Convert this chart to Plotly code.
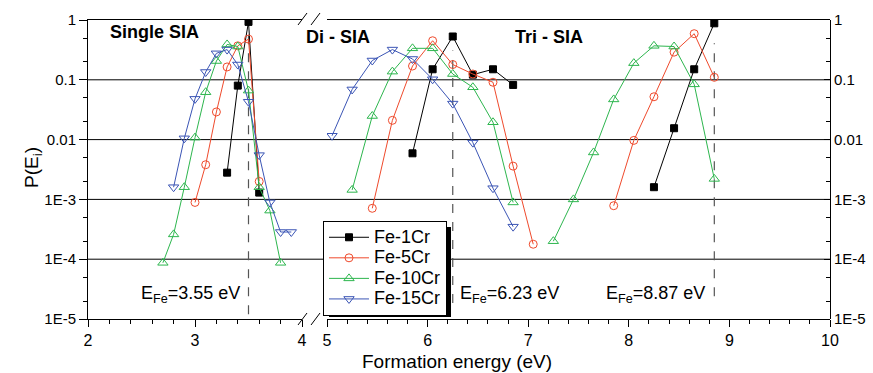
import plotly.graph_objects as go

# ---------------- data ----------------
series_names = ["Fe-1Cr", "Fe-5Cr", "Fe-10Cr", "Fe-15Cr"]

# Single SIA (left axis segment, 2-4 eV)
single_E_1 = [3.3, 3.4, 3.5, 3.6]
single_P_1 = [0.0028, 0.08, 0.93, 0.0013]
single_E_5 = [3.0, 3.1, 3.2, 3.3, 3.4, 3.5, 3.6]
single_P_5 = [0.00089, 0.0038, 0.029, 0.164, 0.37, 0.48, 0.002]
single_E_10 = [2.7, 2.8, 2.9, 3.0, 3.1, 3.2, 3.3, 3.4, 3.5, 3.6, 3.7, 3.8]
single_P_10 = [8.7e-5, 2.6e-4, 0.0016, 0.0108, 0.062, 0.206, 0.39, 0.36, 0.066, 0.0016, 6.5e-4, 8.7e-5]
single_E_15 = [2.8, 2.9, 3.0, 3.1, 3.2, 3.3, 3.4, 3.5, 3.6, 3.7, 3.8, 3.9]
single_P_15 = [0.0016, 0.0105, 0.048, 0.135, 0.277, 0.32, 0.18, 0.043, 0.0055, 8.9e-4, 2.85e-4, 2.85e-4]

# Di SIA
di_E_1 = [5.85, 6.05, 6.25, 6.45, 6.65, 6.85]
di_P_1 = [0.0059, 0.15, 0.53, 0.122, 0.15, 0.082]
di_E_5 = [5.45, 5.65, 5.85, 6.05, 6.25, 6.45, 6.65, 6.85, 7.05]
di_P_5 = [7.1e-4, 0.021, 0.17, 0.45, 0.18, 0.125, 0.091, 0.0036, 1.78e-4]
di_E_10 = [5.25, 5.45, 5.65, 5.85, 6.05, 6.25, 6.45, 6.65, 6.85]
di_P_10 = [0.00144, 0.0248, 0.137, 0.336, 0.336, 0.125, 0.075, 0.0195, 8.9e-4]
di_E_15 = [5.05, 5.25, 5.45, 5.65, 5.85, 6.05, 6.25, 6.45, 6.65, 6.85]
di_P_15 = [0.0116, 0.069, 0.21, 0.32, 0.223, 0.102, 0.04, 0.0089, 0.00154, 3.5e-4]

# Tri SIA
tri_E_1 = [8.25, 8.45, 8.65, 8.85]
tri_P_1 = [0.0016, 0.0155, 0.15, 0.88]
tri_E_5 = [7.85, 8.05, 8.25, 8.45, 8.65, 8.85]
tri_P_5 = [7.85e-4, 0.0097, 0.052, 0.29, 0.59, 0.11]
tri_E_10 = [7.25, 7.45, 7.65, 7.85, 8.05, 8.25, 8.45, 8.65, 8.85]
tri_P_10 = [2.0e-4, 1.0e-3, 0.0061, 0.047, 0.19, 0.37, 0.36, 0.084, 0.0022]
tri_E_15 = []
tri_P_15 = []

y_tickvals = [1, 0.1, 0.01, 1e-3, 1e-4, 1e-5]
y_ticktext = ["1", "0.1", "0.01", "1E-3", "1E-4", "1E-5"]
x1_ticks = [2, 3, 4]
x2_ticks = [5, 6, 7, 8, 9, 10]

ref_E = [3.5, 6.25, 8.85]
ref_labels = ["E<sub>Fe</sub>=3.55 eV", "E<sub>Fe</sub>=6.23 eV", "E<sub>Fe</sub>=8.87 eV"]
group_labels = ["Single SIA", "Di - SIA", "Tri - SIA"]

# ---------------- styles ----------------
colors = ["#000000", "#EF4A2C", "#2DB64E", "#3B55B5"]
symbols = ["square", "circle-open", "triangle-up-open", "triangle-down-open"]
sizes = [7, 8, 9, 9]

single = [(single_E_1, single_P_1), (single_E_5, single_P_5),
          (single_E_10, single_P_10), (single_E_15, single_P_15)]
di = [(di_E_1, di_P_1), (di_E_5, di_P_5), (di_E_10, di_P_10), (di_E_15, di_P_15)]
tri = [(tri_E_1, tri_P_1), (tri_E_5, tri_P_5), (tri_E_10, tri_P_10), (tri_E_15, tri_P_15)]

FONT = "Arial, Liberation Sans, sans-serif"
fig = go.Figure()

for i, name in enumerate(series_names):
    mk = dict(symbol=symbols[i], size=sizes[i], color=colors[i],
              line=dict(color=colors[i], width=1))
    ln = dict(color=colors[i], width=1)
    label = "<span style='font-size:18px'>%s</span>" % name
    fig.add_trace(go.Scatter(x=single[i][0], y=single[i][1], mode="lines+markers",
                             name=label, legendgroup=name, marker=mk, line=ln,
                             xaxis="x", yaxis="y", showlegend=True))
    ex = list(di[i][0])
    py = list(di[i][1])
    if tri[i][0]:
        ex += [None] + list(tri[i][0])
        py += [None] + list(tri[i][1])
    fig.add_trace(go.Scatter(x=ex, y=py, mode="lines+markers", name=label,
                             legendgroup=name, marker=mk, line=ln,
                             xaxis="x2", yaxis="y", showlegend=False,
                             connectgaps=False))

# invisible trace for right axis
fig.add_trace(go.Scatter(x=[5], y=[0.1], xaxis="x2", yaxis="y2", mode="markers",
                         marker=dict(opacity=0), showlegend=False, hoverinfo="skip"))

shapes = []
# horizontal grid lines across the whole width (continuous across the break)
for v in y_tickvals[1:-1]:
    shapes.append(dict(type="line", xref="paper", yref="y", x0=0, x1=1, y0=v, y1=v,
                       line=dict(color="black", width=1), layer="below"))

# dashed reference lines
dash_tops = [0.9, 0.31, 0.41]
dash_bots = [1.2e-5, 1.85e-5, 2.4e-5]
xrefs = ["x", "x2", "x2"]
for e, t, b, xr in zip(ref_E, dash_tops, dash_bots, xrefs):
    shapes.append(dict(type="line", xref=xr, yref="y", x0=e, x1=e, y0=b, y1=t,
                       line=dict(color="#555555", width=1.2, dash="dash"), layer="below"))

# axis break slashes
def px(x):
    return (x - 88) / 742.0

def py_(y):
    return (319 - y) / 299.0

for yc in (319, 19):
    for x0 in (298, 311):
        shapes.append(dict(type="line", xref="paper", yref="paper",
                           x0=px(x0), x1=px(x0 + 9), y0=py_(yc + 6), y1=py_(yc - 6),
                           line=dict(color="black", width=1)))

# legend shadow (legend box drawn on top of it)
shapes.append(dict(type="rect", xref="paper", yref="paper",
                   x0=px(329), x1=px(451), y0=py_(317), y1=py_(227),
                   fillcolor="black", line=dict(width=0), layer="above"))

annotations = []
ann_x = [px(108), px(304), px(513)]
ann_y = [py_(32), py_(37), py_(37)]
for t, x, y in zip(group_labels, ann_x, ann_y):
    annotations.append(dict(text="<b>%s</b>" % t, x=x, y=y, xref="paper", yref="paper",
                            xanchor="left", yanchor="middle", showarrow=False,
                            font=dict(family=FONT, size=18, color="black")))
for t, x in zip(ref_labels, [px(139), px(458), px(604)]):
    annotations.append(dict(text=t, x=x, y=py_(294), xref="paper", yref="paper",
                            xanchor="left", yanchor="middle", showarrow=False,
                            font=dict(family=FONT, size=18, color="black")))
annotations.append(dict(text="P(E<sub>i</sub>)", x=px(33), y=py_(168), xref="paper",
                        yref="paper", textangle=-90, showarrow=False,
                        xanchor="center", yanchor="middle",
                        font=dict(family=FONT, size=19, color="black")))
annotations.append(dict(text="Formation energy (eV)", x=px(457), y=py_(362), xref="paper",
                        yref="paper", showarrow=False, xanchor="center", yanchor="middle",
                        font=dict(family=FONT, size=19, color="black")))

common_x = dict(showgrid=False, zeroline=False, showline=True, linecolor="black",
                linewidth=1, mirror=True, ticks="outside", ticklen=7, tickcolor="black",
                tickfont=dict(family=FONT, size=16, color="black"),
                minor=dict(ticks="outside", ticklen=4, dtick=0.2, tickcolor="black"))

fig.update_layout(
    width=873, height=373,
    margin=dict(l=88, r=43, t=20, b=54, autoexpand=False),
    paper_bgcolor="white", plot_bgcolor="white",
    xaxis=dict(domain=[0, px(302)], range=[2, 4], tickvals=x1_ticks, anchor="y",
               **common_x),
    xaxis2=dict(domain=[px(327), 1], range=[5, 10], tickvals=x2_ticks, anchor="y",
                **common_x),
    yaxis=dict(type="log", range=[-5, 0], tickvals=y_tickvals, ticktext=y_ticktext,
               showgrid=False, zeroline=False, showline=True, linecolor="black",
               linewidth=1, ticks="outside", ticklen=8, tickcolor="black",
               tickfont=dict(family=FONT, size=15, color="black"),
               minor=dict(ticks="outside", ticklen=4, tickcolor="black", showgrid=False),
               anchor="x"),
    yaxis2=dict(type="log", range=[-5, 0], tickvals=y_tickvals, ticktext=y_ticktext,
                overlaying="y", side="right", anchor="free", position=1,
                showgrid=False, zeroline=False, showline=True, linecolor="black",
                linewidth=1, ticks="inside", ticklen=6, tickcolor="black",
                tickfont=dict(family=FONT, size=15, color="black"),
                minor=dict(ticks="inside", ticklen=4, tickcolor="black", showgrid=False)),
    legend=dict(x=px(323), y=py_(221), xanchor="left", yanchor="top",
                bgcolor="white", bordercolor="black", borderwidth=1,
                font=dict(family=FONT, size=13.5, color="black"),
                itemwidth=40, tracegroupgap=0),
    shapes=shapes,
    annotations=annotations,
    showlegend=True,
)

fig.write_html("out.html", config={"displayModeBar": False},
               post_script="document.body.style.margin='0';document.body.style.padding='0';")
